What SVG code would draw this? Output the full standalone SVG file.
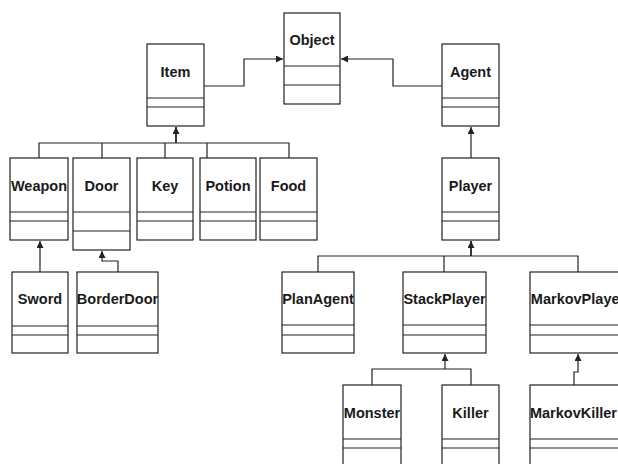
<svg xmlns="http://www.w3.org/2000/svg" width="618" height="464" viewBox="0 0 618 464">
<style>
.box{fill:#fff;stroke:#222;stroke-width:1.2}
.div{stroke:#222;stroke-width:1.2}
.t{font-family:"Liberation Sans",Arial,sans-serif;font-weight:bold;font-size:14.5px;fill:#1a1a1a;text-anchor:middle}
.c{fill:none;stroke:#222;stroke-width:1.2}
.c2{fill:none;stroke:#222;stroke-width:1.8}
</style>
<defs>
<marker id="a" viewBox="0 0 10 10" refX="10" refY="5" markerWidth="7" markerHeight="7" markerUnits="userSpaceOnUse" orient="auto">
<path d="M0,0 L10,5 L0,10 z" fill="#222"/>
</marker>
</defs>
<rect width="618" height="464" fill="#fff"/>
<g id="connectors">
<path class="c" d="M204,86 H244 V59 H283" marker-end="url(#a)"/>
<path class="c" d="M442,86 H393 V59 H341" marker-end="url(#a)"/>
<path class="c" d="M39,158 V143 H289 V158 M102,143 V158 M165,143 V158 M207,143 V158"/>
<path class="c2" d="M176,143 V127" marker-end="url(#a)"/>
<path class="c" d="M471,158 V127" marker-end="url(#a)"/>
<path class="c" d="M40,272 V241" marker-end="url(#a)"/>
<path class="c" d="M118,272 V261 H102 V251" marker-end="url(#a)"/>
<path class="c" d="M318,272 V256 H578 V272 M444,256 V272"/>
<path class="c2" d="M471,256 V241" marker-end="url(#a)"/>
<path class="c" d="M372,385 V369 H471 V385"/>
<path class="c" d="M445,369 V354" marker-end="url(#a)"/>
<path class="c" d="M574,385 V372 H578 V354" marker-end="url(#a)"/>
</g>
<g id="Object"><rect class="box" x="284" y="13" width="56" height="91"/><path class="div" d="M284,66 H340 M284,85 H340"/><text class="t" x="312" y="44.5">Object</text></g>
<g id="Item"><rect class="box" x="147" y="44" width="57" height="82"/><path class="div" d="M147,98 H204 M147,107 H204"/><text class="t" x="175.5" y="76.5">Item</text></g>
<g id="Agent"><rect class="box" x="442" y="44" width="57" height="82"/><path class="div" d="M442,98 H499 M442,107 H499"/><text class="t" x="470.5" y="76.5">Agent</text></g>
<g id="Weapon"><rect class="box" x="10" y="158" width="58" height="82"/><path class="div" d="M10,212 H68 M10,221 H68"/><text class="t" x="39" y="190.5">Weapon</text></g>
<g id="Door"><rect class="box" x="73" y="158" width="57" height="92"/><path class="div" d="M73,212 H130 M73,231 H130"/><text class="t" x="101.5" y="190.5">Door</text></g>
<g id="Key"><rect class="box" x="137" y="158" width="56" height="82"/><path class="div" d="M137,212 H193 M137,221 H193"/><text class="t" x="165" y="190.5">Key</text></g>
<g id="Potion"><rect class="box" x="200" y="158" width="56" height="82"/><path class="div" d="M200,212 H256 M200,221 H256"/><text class="t" x="228" y="190.5">Potion</text></g>
<g id="Food"><rect class="box" x="260" y="158" width="57" height="82"/><path class="div" d="M260,212 H317 M260,221 H317"/><text class="t" x="288.5" y="190.5">Food</text></g>
<g id="Player"><rect class="box" x="442" y="158" width="57" height="82"/><path class="div" d="M442,212 H499 M442,221 H499"/><text class="t" x="470.5" y="190.5">Player</text></g>
<g id="Sword"><rect class="box" x="12" y="272" width="56" height="81"/><path class="div" d="M12,326 H68 M12,335 H68"/><text class="t" x="40" y="303.5">Sword</text></g>
<g id="BorderDoor"><rect class="box" x="77" y="272" width="81" height="81"/><path class="div" d="M77,326 H158 M77,335 H158"/><text class="t" x="117.5" y="303.5">BorderDoor</text></g>
<g id="PlanAgent"><rect class="box" x="282" y="272" width="72" height="81"/><path class="div" d="M282,325 H354 M282,335 H354"/><text class="t" x="318" y="303.5">PlanAgent</text></g>
<g id="StackPlayer"><rect class="box" x="403" y="272" width="83" height="81"/><path class="div" d="M403,325 H486 M403,335 H486"/><text class="t" x="444.5" y="303.5">StackPlayer</text></g>
<g id="MarkovPlayer"><rect class="box" x="530" y="272" width="96" height="81"/><path class="div" d="M530,325 H626 M530,335 H626"/><text class="t" x="578" y="303.5">MarkovPlayer</text></g>
<g id="Monster"><rect class="box" x="343" y="385" width="58" height="90"/><path class="div" d="M343,439 H401 M343,448 H401"/><text class="t" x="372" y="417.5">Monster</text></g>
<g id="Killer"><rect class="box" x="442" y="385" width="57" height="90"/><path class="div" d="M442,439 H499 M442,448 H499"/><text class="t" x="470.5" y="417.5">Killer</text></g>
<g id="MarkovKiller"><rect class="box" x="530" y="385" width="90" height="90"/><path class="div" d="M530,439 H620 M530,448 H620"/><text class="t" x="573.5" y="417.5">MarkovKiller</text></g>
</svg>
